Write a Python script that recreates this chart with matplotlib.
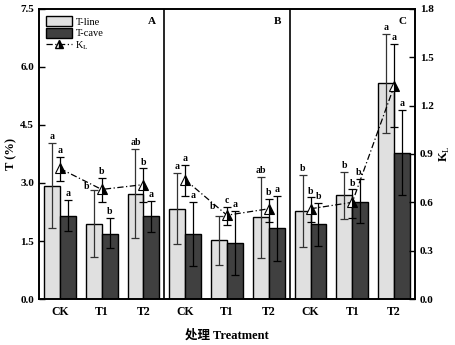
import numpy as np
import matplotlib
matplotlib.use("Agg")
import matplotlib.pyplot as plt
from matplotlib.patches import Patch
from matplotlib.lines import Line2D

plt.rcParams['font.family'] = ['Liberation Serif', 'Noto Sans CJK SC']
plt.rcParams['mathtext.fontset'] = 'custom'
plt.rcParams['mathtext.rm'] = 'Liberation Serif'

panels = ['A', 'B', 'C']
treatments = ['CK', 'T1', 'T2', 'CK', 'T1', 'T2', 'CK', 'T1', 'T2']

t_line = [2.92, 1.94, 2.72, 2.33, 1.52, 2.11, 2.28, 2.69, 5.59]
t_line_hi = [4.03, 2.82, 3.88, 3.25, 2.15, 3.16, 3.21, 3.29, 6.85]
t_line_lo = [1.83, 1.08, 1.57, 1.42, 0.88, 1.07, 1.35, 2.06, 4.30]

t_cave = [2.15, 1.68, 2.15, 1.69, 1.46, 1.83, 1.94, 2.52, 3.78]
t_cave_hi = [2.56, 2.09, 2.53, 2.52, 2.28, 2.67, 2.49, 3.10, 4.89]
t_cave_lo = [1.76, 1.31, 1.74, 0.86, 0.62, 0.97, 1.38, 1.96, 2.69]

kl = [0.81, 0.68, 0.71, 0.74, 0.52, 0.56, 0.56, 0.60, 1.32]
kl_hi = [0.88, 0.75, 0.81, 0.83, 0.57, 0.62, 0.63, 0.68, 1.58]
kl_lo = [0.73, 0.60, 0.60, 0.64, 0.46, 0.48, 0.48, 0.50, 1.07]

lab_line = ['a', 'b', 'ab', 'a', 'b', 'ab', 'b', 'b', 'a']
lab_cave = ['a', 'b', 'a', 'a', 'a', 'a', 'b', 'b.', 'a']
lab_kl = ['a', 'b', 'b', 'a', 'c', 'b', 'b', 'b', 'a']

fig = plt.figure(figsize=(4.56, 3.45), dpi=100)
ax = fig.add_axes([0.0855, 0.1333, 0.8245, 0.8407])
ax2 = ax.twinx()

x = np.arange(len(treatments))
w = 0.38
cap = 2.8
tl = np.array(t_line); tc = np.array(t_cave)
ax.bar(x - w/2, tl, w, color='#e0e0e0', edgecolor='black', linewidth=1.0, zorder=2)
ax.bar(x + w/2, tc, w, color='#404040', edgecolor='black', linewidth=1.0, zorder=2)
ax.errorbar(x - w/2, tl, yerr=[tl - np.array(t_line_lo), np.array(t_line_hi) - tl],
            fmt='none', ecolor='#333333', elinewidth=0.9, capsize=cap, capthick=0.9, zorder=3)
ax.errorbar(x + w/2, tc, yerr=[tc - np.array(t_cave_lo), np.array(t_cave_hi) - tc],
            fmt='none', ecolor='black', elinewidth=0.9, capsize=cap, capthick=0.9, zorder=3)

fs_lab = 7
line_dx = {1: -0.18, 4: -0.15}
line_dy = {1: -0.08, 4: 0.08}
for i in range(len(x)):
    ax.text(x[i] - w/2 + line_dx.get(i, 0), t_line_hi[i] + 0.05 + line_dy.get(i, 0), lab_line[i],
            ha='center', va='bottom', fontsize=fs_lab, fontweight='bold')
    ax.text(x[i] + w/2, t_cave_hi[i] + 0.05, lab_cave[i],
            ha='center', va='bottom', fontsize=fs_lab, fontweight='bold')

k = np.array(kl)
for p in range(3):
    s = slice(3*p, 3*p + 3)
    ax2.errorbar(x[s], k[s], yerr=[k[s] - np.array(kl_lo[s]), np.array(kl_hi[s]) - k[s]],
                 fmt='none', ecolor='black', elinewidth=0.9, capsize=cap, capthick=0.9, zorder=4)
    ax2.plot(x[s], k[s], linestyle=(0, (5, 2, 1, 2)), color='black', linewidth=0.9,
             marker='^', markersize=7, fillstyle='right', markerfacecolor='black',
             markerfacecoloralt='white', markeredgecolor='black', markeredgewidth=0.8, zorder=5)
for i in range(len(x)):
    ax2.text(x[i], kl_hi[i] + 0.012, lab_kl[i], ha='center', va='bottom',
             fontsize=fs_lab, fontweight='bold')

ax.set_xlim(-0.5, 8.5)
ax.set_ylim(0, 7.5)
ax2.set_ylim(0, 1.8)
ax.set_yticks(np.arange(0, 7.6, 1.5))
ax2.set_yticks(np.arange(0, 1.81, 0.3))
ax.set_yticklabels([f'{v:.1f}' for v in np.arange(0, 7.6, 1.5)], fontweight='bold', fontsize=8)
ax2.set_yticklabels([f'{v:.1f}' for v in np.arange(0, 1.81, 0.3)], fontweight='bold', fontsize=8)
ax.set_xticks(x)
ax.set_xticklabels(treatments, fontweight='bold', fontsize=8.5)
ax.tick_params(axis='x', length=0, pad=5)
ax.tick_params(axis='y', direction='in', length=4, width=1)
ax2.tick_params(axis='y', direction='in', length=4, width=1)

for a in (ax, ax2):
    for sp in a.spines.values():
        sp.set_linewidth(1.2)

for b in (2.5, 5.5):
    ax.axvline(b, color='black', linewidth=1.2, zorder=6)

for p, name in enumerate(panels):
    ax.text(3*p + 2.3, 7.3, name, ha='right', va='top', fontsize=8, fontweight='bold')

ax.set_ylabel('T (%)', fontweight='bold', fontsize=9, labelpad=2)
ax2.set_ylabel('K$_\\mathrm{L}$', fontweight='bold', fontsize=9, labelpad=3)
ax.set_xlabel('处理 Treatment', fontweight='bold', fontsize=9, labelpad=8)

handles = [Patch(facecolor='#e0e0e0', edgecolor='black', linewidth=1.0),
           Patch(facecolor='#404040', edgecolor='black', linewidth=1.0),
           Line2D([0], [0], linestyle=(0, (5, 2, 1, 2)), color='black', linewidth=0.9,
                  marker='^', markersize=6, fillstyle='right', markerfacecolor='black',
                  markerfacecoloralt='white', markeredgecolor='black')]
leg = ax.legend(handles, ['T-line', 'T-cave', 'K$_\\mathrm{L}$'], loc='upper left',
                frameon=False, fontsize=7.5, handlelength=2.5, handleheight=1.1,
                labelspacing=0.1, handletextpad=0.3, borderaxespad=0.3)
leg.set_zorder(10)

fig.savefig('out.png', dpi=100)
